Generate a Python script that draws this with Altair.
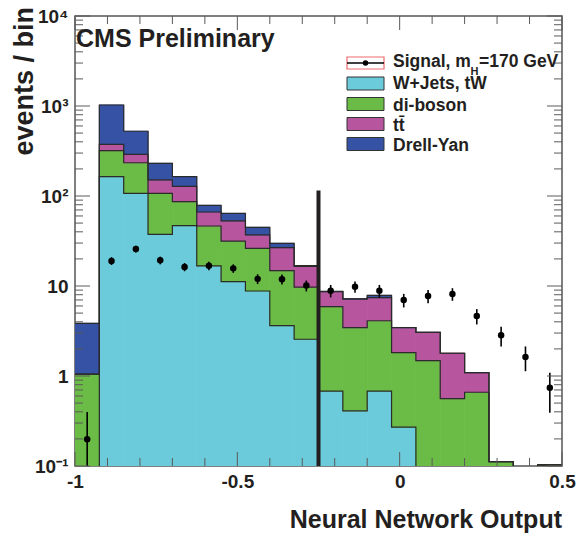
import altair as alt
import numpy as np
import pandas as pd

# ---------------- data ----------------
n_bins = 20
x_first_edge = -1.0
bin_width = 0.075

comp_names = ["W+Jets, tW", "di-boson", "tt\u0304", "Drell-Yan"]
comp_colors = ["#6ccbdb", "#6bbc46", "#b7559e", "#3552a5"]

wjets   = [0, 164, 107, 37.5, 46.8, 16.7, 11.2, 8.8, 3.62, 2.56, 0.68, 0.41, 0.68, 0.27, 0, 0, 0, 0, 0, 0]
diboson = [1.05, 155, 127, 69.5, 39.7, 29.7, 20.4, 17.4, 11.2, 7.14, 5.21, 3.03, 3.43, 1.55, 1.48, 0.56, 0.66, 0.112, 0, 0.103]
ttbar   = [0, 56, 56, 44, 41.5, 20, 21.4, 10.7, 11.9, 6.8, 2.76, 3.73, 3.3, 1.62, 1.58, 1.23, 0.43, 0, 0, 0]
dyan    = [2.8, 651, 234, 80, 36, 12.3, 11, 8, 3.1, 0.3, 0.05, 0.03, 0.46, 0.02, 0, 0, 0, 0, 0, 0]

signal     = [0.198, 19.0, 25.8, 19.3, 16.3, 16.8, 15.7, 12.0, 11.9, 10.1, 8.87, 9.8, 8.87, 6.98, 7.74, 8.15, 4.64, 2.83, 1.63, 0.74]
signal_err = [0.2, 1.9, 2.2, 1.9, 1.7, 1.8, 1.7, 1.5, 1.5, 1.4, 1.4, 1.4, 1.4, 1.2, 1.3, 1.3, 0.9, 0.7, 0.5, 0.35]

cut_value = -0.25
cut_top = 115

x_major_ticks = [-1.0, -0.5, 0.0, 0.5]
x_minor_ticks = [-0.9, -0.8, -0.7, -0.6, -0.4, -0.3, -0.2, -0.1, 0.1, 0.2, 0.3, 0.4]
y_major_ticks = [0.1, 1, 10, 100, 1000, 10000]
y_minor_ticks = [k * 10.0 ** d for d in range(-1, 4) for k in range(2, 10)]

# ---------------- layout ----------------
W, H = 487, 450
FLOOR = 1e-3
FONT = "Liberation Sans"
TXT = "#231f20"
TICK = "#5a5a5a"

# ---------------- build tables ----------------
comps = [wjets, diboson, ttbar, dyan]
rects, steps = [], []
cum = np.zeros(n_bins)
for k, (name, vals) in enumerate(zip(comp_names, comps)):
    bottom = cum.copy()
    cum = cum + np.array(vals, dtype=float)
    for i in range(n_bins):
        lo = x_first_edge + i * bin_width
        hi = lo + bin_width
        if vals[i] > 0:
            rects.append(dict(comp=name, k=k, x=lo, x2=hi, y=cum[i], y2=max(bottom[i], FLOOR)))
        yv = max(cum[i], FLOOR)
        steps.append(dict(comp=name, idx=2 * i, x=lo, y=yv))
        steps.append(dict(comp=name, idx=2 * i + 1, x=hi, y=yv))
rect_df = pd.DataFrame(rects)
step_df = pd.DataFrame(steps)

centers = [x_first_edge + (i + 0.5) * bin_width for i in range(n_bins)]
sig_df = pd.DataFrame(dict(
    x=centers, y=signal,
    lo=[max(v - e, FLOOR) for v, e in zip(signal, signal_err)],
    hi=[v + e for v, e in zip(signal, signal_err)],
))
cut_df = pd.DataFrame(dict(x=[cut_value], y=[cut_top], y2=[FLOOR]))

xs = alt.Scale(domain=[-1, 0.5], nice=False, zero=False)
ys = alt.Scale(type="log", domain=[0.1, 10000], nice=False)

x_axis = alt.Axis(values=x_major_ticks, ticks=False, domain=False, grid=False, title=None,
                  labelFont=FONT, labelFontSize=19, labelFontWeight="bold", labelColor=TXT,
                  labelPadding=6, labelFlush=False, labelOverlap=False,
                  labelExpr="datum.value < 0 ? '-' + format(-datum.value, '~g') : format(datum.value, '~g')")
y_axis = alt.Axis(values=y_major_ticks, ticks=False, domain=False, grid=False, title=None,
                  labelFont=FONT, labelFontSize=19, labelFontWeight="bold", labelColor=TXT,
                  labelPadding=7, labelOverlap=False, labelFlush=False,
                  labelExpr="datum.value >= 10000 ? '10\u2074' : datum.value >= 1000 ? '10\u00b3' : "
                            "datum.value >= 100 ? '10\u00b2' : datum.value >= 10 ? '10' : "
                            "datum.value >= 1 ? '1' : '10\u207b\u00b9'")

def X(f):
    return alt.X(f, scale=xs, axis=x_axis)

def Y(f):
    return alt.Y(f, scale=ys, axis=y_axis)

comp_scale = alt.Scale(domain=comp_names, range=comp_colors)
fills = alt.Chart(rect_df).mark_rect(clip=True, strokeWidth=0.8).encode(
    x=X("x:Q"), x2="x2:Q", y=Y("y:Q"), y2="y2:Q",
    color=alt.Color("comp:N", scale=comp_scale, legend=None),
    stroke=alt.Stroke("comp:N", scale=comp_scale, legend=None),
)
outlines = alt.Chart(step_df).mark_line(clip=True, color="#2b2b2b", strokeWidth=1.2).encode(
    x=X("x:Q"), y=Y("y:Q"), detail="comp:N", order="idx:Q",
)
cut = alt.Chart(cut_df).mark_rule(clip=True, color=TXT, strokeWidth=4).encode(
    x=X("x:Q"), y=Y("y:Q"), y2="y2:Q",
)
errs = alt.Chart(sig_df).mark_rule(clip=True, color="black", strokeWidth=1.6).encode(
    x=X("x:Q"), y=Y("lo:Q"), y2="hi:Q",
)
pts = alt.Chart(sig_df).mark_circle(clip=True, color="black", opacity=1, size=42).encode(
    x=X("x:Q"), y=Y("y:Q"),
)

# ticks drawn inside the frame
def yticks(vals, length):
    d = pd.DataFrame(dict(v=vals))
    left = alt.Chart(d).mark_rule(color=TICK, strokeWidth=1).encode(
        y=Y("v:Q"), x=alt.value(0), x2=alt.value(length))
    right = alt.Chart(d).mark_rule(color=TICK, strokeWidth=1).encode(
        y=Y("v:Q"), x=alt.value(W), x2=alt.value(W - length))
    return [left, right]

def xticks(vals, length):
    d = pd.DataFrame(dict(v=vals))
    bot = alt.Chart(d).mark_rule(color=TICK, strokeWidth=1).encode(
        x=X("v:Q"), y=alt.value(H), y2=alt.value(H - length))
    top = alt.Chart(d).mark_rule(color=TICK, strokeWidth=1).encode(
        x=X("v:Q"), y=alt.value(0), y2=alt.value(length))
    return [bot, top]

tick_layers = yticks(y_major_ticks, 15) + yticks(y_minor_ticks, 8) + xticks(x_major_ticks, 14) + xticks(x_minor_ticks, 8)

one = pd.DataFrame(dict(a=[0]))

def txt(s, x, y, size, align="left", baseline="alphabetic", angle=0, color=TXT):
    kw = dict(text=s, font=FONT, fontSize=size, fontWeight="bold", align=align,
              baseline=baseline, color=color)
    if angle:
        kw["angle"] = angle
    return alt.Chart(one).mark_text(**kw).encode(x=alt.value(x), y=alt.value(y))

texts = [
    txt("CMS Preliminary", 1, 31, 25),
    txt("Neural Network Output", W, 512, 25, align="right"),
    txt("events / bin", -42, -9, 27, align="right", angle=270),
]

# legend (manual, ROOT style)
LX0, LX1 = 272, 309
TX = 318
leg_rows = [
    ("W+Jets, tW", comp_colors[0], 67.5, 73),
    ("di-boson", comp_colors[1], 88, 94.5),
    ("tt\u0304", comp_colors[2], 108, 115),
    ("Drell-Yan", comp_colors[3], 128, 135),
]
legend_layers = []
# signal entry
legend_layers.append(alt.Chart(one).mark_rect(fill="white", stroke="#ee6b6e", strokeWidth=1.2).encode(
    x=alt.value(LX0), x2=alt.value(LX1), y=alt.value(41), y2=alt.value(53)))
legend_layers.append(alt.Chart(one).mark_rule(color="black", strokeWidth=1.5).encode(
    x=alt.value(LX0), x2=alt.value(LX1), y=alt.value(47)))
legend_layers.append(alt.Chart(one).mark_circle(color="black", opacity=1, size=30).encode(
    x=alt.value((LX0 + LX1) / 2), y=alt.value(47)))
legend_layers.append(txt("Signal, m", TX, 51, 17.5))
legend_layers.append(txt("H", 395.5, 59, 11))
legend_layers.append(txt("=170 GeV", 404, 51, 17.5))
for label, col, cy, by in leg_rows:
    legend_layers.append(alt.Chart(one).mark_rect(fill=col, stroke="#333333", strokeWidth=1).encode(
        x=alt.value(LX0), x2=alt.value(LX1), y=alt.value(cy - 6.5), y2=alt.value(cy + 6.5)))
    legend_layers.append(txt(label, TX, by, 17.5))

chart = alt.layer(
    fills, outlines, cut, errs, pts, *tick_layers, *texts, *legend_layers
).properties(
    width=W, height=H,
    autosize=alt.AutoSizeParams(type="none"),
    padding={"left": 75, "top": 16, "right": 15, "bottom": 67},
    background="white",
).configure_view(stroke="#555555", strokeWidth=1.5)

chart.save("out.html", embed_options={"renderer": "svg", "actions": False})
